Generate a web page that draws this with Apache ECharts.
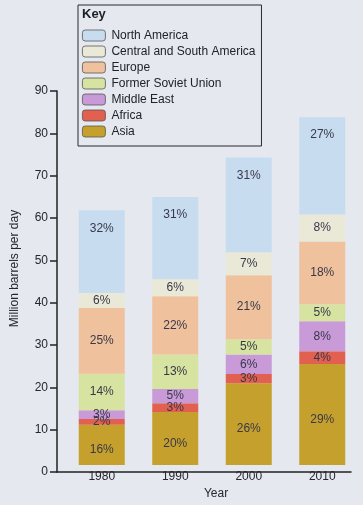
<!DOCTYPE html>
<html>
<head>
<meta charset="utf-8">
<script src="https://cdn.jsdelivr.net/npm/echarts@6/dist/echarts.min.js"></script>
<style>
html,body{margin:0;padding:0;background:#e5e8ef;}
#chart{width:363px;height:505px;}
</style>
</head>
<body>
<div id="chart"></div>
<script>
const years = ['1980', '1990', '2000', '2010'];
const yTicks = [0, 10, 20, 30, 40, 50, 60, 70, 80, 90];

const seriesNames = ['North America', 'Central and South America', 'Europe', 'Former Soviet Union', 'Middle East', 'Africa', 'Asia'];

// million barrels per day, per region
const northAmerica = [19.9, 19.8, 22.8, 23.4];
const centralSouthAmerica = [3.6, 4.1, 5.5, 6.5];
const europe = [15.8, 14.0, 15.4, 15.1];
const formerSovietUnion = [8.8, 8.3, 3.7, 4.1];
const middleEast = [2.1, 3.4, 4.7, 7.2];
const africa = [1.4, 2.1, 2.2, 3.1];
const asia = [9.7, 12.8, 19.7, 24.3];

// printed share labels (%)
const northAmericaPct = [32, 31, 31, 27];
const centralSouthAmericaPct = [6, 6, 7, 8];
const europePct = [25, 22, 21, 18];
const formerSovietUnionPct = [14, 13, 5, 5];
const middleEastPct = [3, 5, 6, 8];
const africaPct = [2, 3, 3, 4];
const asiaPct = [16, 20, 26, 29];

const colors = {
  'North America': '#c8dcef',
  'Central and South America': '#eae9d7',
  'Europe': '#efc19c',
  'Former Soviet Union': '#d7e3a0',
  'Middle East': '#c89ad8',
  'Africa': '#e2604f',
  'Asia': '#c5a02c'
};

// stacking order bottom -> top
const stackOrder = [
  ['Asia', asia, asiaPct],
  ['Africa', africa, africaPct],
  ['Middle East', middleEast, middleEastPct],
  ['Former Soviet Union', formerSovietUnion, formerSovietUnionPct],
  ['Europe', europe, europePct],
  ['Central and South America', centralSouthAmerica, centralSouthAmericaPct],
  ['North America', northAmerica, northAmericaPct]
];

const FONT = "'Liberation Sans', Arial, sans-serif";
const TXT = '#26262c';

const series = stackOrder.map(([name, vals, pcts]) => ({
  name: name,
  type: 'bar',
  stack: 'total',
  xAxisIndex: 0,
  yAxisIndex: 0,
  barWidth: 46,
  itemStyle: { color: colors[name] },
  label: {
    show: true,
    position: name === 'North America' ? 'insideTop' : 'inside',
    distance: 12,
    offset: name === 'Asia' ? [0, 5] : [0, 0],
    color: '#38384a',
    fontSize: 12,
    fontFamily: FONT,
    formatter: p => pcts[p.dataIndex] + '%'
  },
  emphasis: { disabled: true },
  data: vals
}));

const chart = echarts.init(document.getElementById('chart'), null, { renderer: 'canvas' });
chart.setOption({
  backgroundColor: '#e5e8ef',
  animation: false,
  title: {
    text: 'Key',
    left: 82,
    top: 8,
    textStyle: { fontSize: 13, fontWeight: 'bold', color: '#1e1e24', fontFamily: FONT },
    padding: 0
  },
  legend: {
    data: seriesNames,
    orient: 'vertical',
    left: 78,
    top: 5,
    padding: [24, 6, 8, 4],
    borderColor: '#2a2a30',
    borderWidth: 1,
    itemWidth: 23,
    itemHeight: 11,
    itemGap: 3,
    selectedMode: false,
    itemStyle: { borderColor: '#555', borderWidth: 0.8 },
    textStyle: { fontSize: 12, lineHeight: 13, color: '#222228', fontFamily: FONT, padding: [0, 0, 0, 1] }
  },
  grid: [
    { left: 65, right: 4, top: 91, bottom: 33 },
    { left: 57, right: 12, top: 91, bottom: 33 }
  ],
  xAxis: [
    {
      type: 'category',
      gridIndex: 0,
      data: years,
      name: 'Year',
      nameLocation: 'middle',
      nameGap: 15,
      nameTextStyle: { fontSize: 12, color: TXT, fontFamily: FONT, padding: [0, 0, 0, 8] },
      axisLine: { show: false },
      axisTick: { show: false },
      axisLabel: { margin: 6, fontSize: 12, color: TXT, fontFamily: FONT }
    },
    {
      type: 'value',
      gridIndex: 1,
      min: 0,
      max: 1,
      axisLine: { show: true, lineStyle: { color: '#222', width: 1.5 } },
      axisTick: { show: false },
      axisLabel: { show: false },
      splitLine: { show: false }
    }
  ],
  yAxis: [
    {
      type: 'value',
      gridIndex: 0,
      min: yTicks[0],
      max: yTicks[yTicks.length - 1],
      interval: 10,
      show: false
    },
    {
      type: 'value',
      gridIndex: 1,
      min: yTicks[0],
      max: yTicks[yTicks.length - 1],
      interval: 10,
      name: 'Million barrels per day',
      nameLocation: 'middle',
      nameGap: 36,
      nameTextStyle: { fontSize: 12, color: TXT, fontFamily: FONT, padding: [0, 0, 0, 26] },
      axisLine: { show: true, lineStyle: { color: '#222', width: 1.5 } },
      axisTick: { show: true, length: 7, inside: false, lineStyle: { color: '#222', width: 1.5 } },
      splitLine: { show: false },
      axisLabel: { margin: 9, fontSize: 12, color: TXT, fontFamily: FONT, formatter: v => yTicks.indexOf(v) >= 0 ? String(v) : '' }
    }
  ],
  series: series
});
</script>
</body>
</html>
